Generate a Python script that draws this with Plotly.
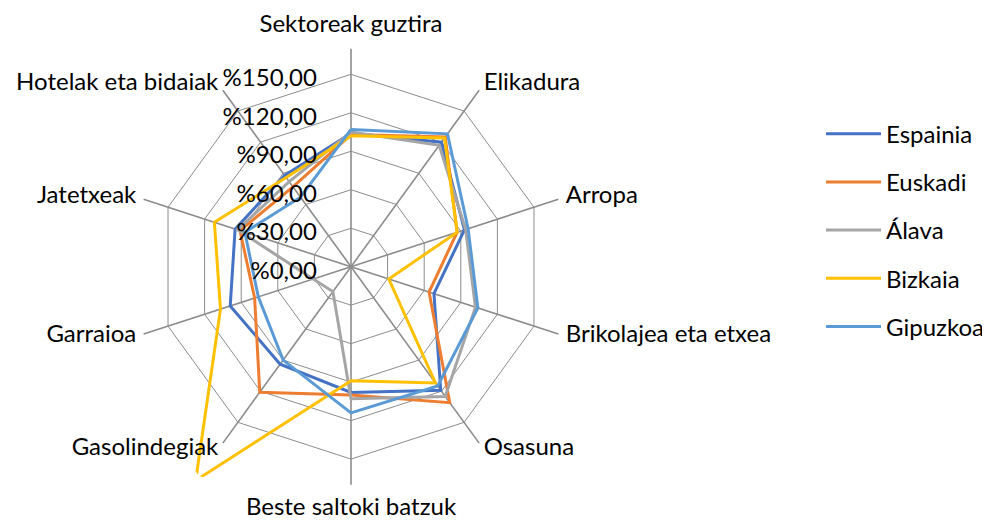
import plotly.graph_objects as go

categories = ["Sektoreak guztira", "Elikadura", "Arropa", "Brikolajea eta etxea",
              "Osasuna", "Beste saltoki batzuk", "Gasolindegiak", "Garraioa",
              "Jatetxeak", "Hotelak eta bidaiak"]
espainia = [104, 120, 93, 68, 119, 98, 94, 99, 95, 88]
euskadi = [103, 125, 87, 64, 131, 100, 121, 79, 91, 77]
alava = [105, 117, 94, 102, 125, 103, 24, 31, 93, 82]
bizkaia = [102, 124, 87, 31, 112, 89, 206, 107, 112, 86]
gipuzkoa = [107, 128, 96, 104, 115, 114, 90, 76, 87, 67]
radial_ticks = [0, 30, 60, 90, 120, 150]
radial_ticktext = ["%0,00", "%30,00", "%60,00", "%90,00", "%120,00", "%150,00"]

series = [
    ("Espainia", espainia, "#4472C4"),
    ("Euskadi", euskadi, "#ED7D31"),
    ("Álava", alava, "#A5A5A5"),
    ("Bizkaia", bizkaia, "#FFC000"),
    ("Gipuzkoa", gipuzkoa, "#5B9BD5"),
]

FONT = "Lato"
FS = 24
GRID = "#8C8C8C"
SPOKE_LEN = 170          # radial value where the category spokes end
LABEL_R_SIDE = 176       # radial value of side category labels
LABEL_R_TOP = 188        # radial value of top category label
LABEL_R_BOTTOM = 189     # radial value of bottom category label

fig = go.Figure()

# category spokes
sr, st = [], []
for c in categories:
    sr += [0, SPOKE_LEN, None]
    st += [c, c, None]
fig.add_trace(go.Scatterpolar(r=sr, theta=st, mode="lines", showlegend=False,
                              hoverinfo="skip", line=dict(color=GRID, width=1.6)))

# data series
for i, (name, vals, color) in enumerate(series):
    fig.add_trace(go.Scatterpolar(
        r=vals + vals[:1], theta=categories + categories[:1],
        mode="lines", name=name, line=dict(color=color, width=3),
        cliponaxis=False, legendgroup=f"g{i}",
    ))

# category labels
n = len(categories)
lab_r, lab_pos = [], []
for i in range(n):
    if i == 0:
        lab_r.append(LABEL_R_TOP)
        lab_pos.append("middle center")
    elif i == n // 2:
        lab_r.append(LABEL_R_BOTTOM)
        lab_pos.append("middle center")
    elif i < n // 2:
        lab_r.append(LABEL_R_SIDE)
        lab_pos.append("middle right")
    else:
        lab_r.append(LABEL_R_SIDE)
        lab_pos.append("middle left")
fig.add_trace(go.Scatterpolar(r=lab_r, theta=categories, text=categories, mode="text",
                              textposition=lab_pos, cliponaxis=False, showlegend=False,
                              hoverinfo="skip",
                              textfont=dict(size=FS, family=FONT, color="#000000")))

# Page is drawn with an 8px body margin: geometry below is in figure coords
W, H = 990, 518
cx, cy = 343, 258.7      # polar centre (figure px from left / top)
rad = cy                 # largest radius that fits above the centre
px_per_unit = 192.4 / 150
rmax = rad / px_per_unit

fig.update_layout(
    width=W, height=H, margin=dict(l=0, r=0, t=0, b=0),
    paper_bgcolor="white", plot_bgcolor="white",
    font=dict(family=FONT, size=FS, color="#000000"),
    polar=dict(
        domain=dict(x=[(cx - rad) / W, (cx + rad) / W],
                    y=[(H - cy - rad) / H, 1]),
        bgcolor="rgba(0,0,0,0)",
        gridshape="linear",
        angularaxis=dict(direction="clockwise", rotation=90, showline=False,
                         showgrid=False, showticklabels=False, ticks=""),
        radialaxis=dict(range=[0, rmax], tickvals=radial_ticks, ticktext=radial_ticktext,
                        angle=90, side="counterclockwise", showline=False,
                        gridcolor=GRID, gridwidth=1, ticks="outside", ticklen=12,
                        tickcolor="rgba(0,0,0,0)",
                        tickfont=dict(size=FS, family=FONT, color="#000000")),
    ),
    legend=dict(x=813 / W, y=0.80, xanchor="left", yanchor="top",
                traceorder="grouped", tracegroupgap=14, itemwidth=55,
                font=dict(size=FS, family=FONT, color="#000000")),
    showlegend=True,
)
fig.write_html("out.html")
